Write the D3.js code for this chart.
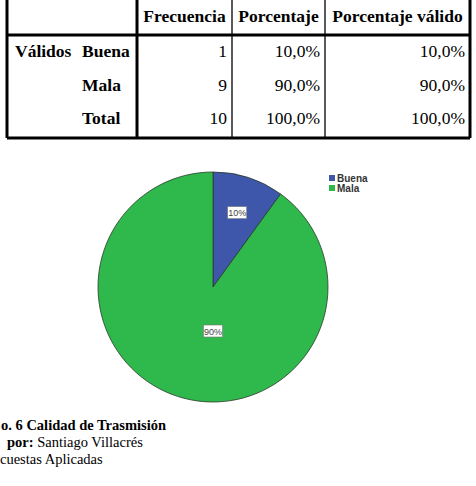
<!DOCTYPE html>
<html>
<head>
<meta charset="utf-8">
<script src="https://cdn.jsdelivr.net/npm/d3@7"></script>
<style>
  body { margin: 0; background: #fff; }
  svg { display: block; }
</style>
</head>
<body>
<svg id="chart" width="476" height="486"></svg>
<script>
// table + pie data
var categories = ["Buena", "Mala"];
var frecuencia = [1, 9];
var porcentaje = ["10,0%", "90,0%"];
var porcentajeValido = ["10,0%", "90,0%"];
var totalRow = ["Total", 10, "100,0%", "100,0%"];
var headers = ["Frecuencia", "Porcentaje", "Porcentaje válido"];
var sliceLabels = ["10%", "90%"];
var colors = ["#3f57ab", "#2fb84c"];
var caption = ["o. 6 Calidad de Trasmisión", "por:", " Santiago Villacrés", "cuestas Aplicadas"];

var svg = d3.select("#chart");

// ---- table ----
var colX = [7, 137, 232, 325, 470];
var rowY = [-3, 35, 138];
var rowCenters = [51, 85, 118];
var serif = "'Liberation Serif', 'Times New Roman', serif";
var fs = "17.5px";

var tbl = svg.append("g");

// grid lines
tbl.append("line").attr("x1", colX[0]).attr("x2", colX[4]).attr("y1", rowY[1]).attr("y2", rowY[1])
  .attr("stroke", "#000").attr("stroke-width", 3);
tbl.append("line").attr("x1", colX[0]).attr("x2", colX[4]).attr("y1", rowY[2]).attr("y2", rowY[2])
  .attr("stroke", "#000").attr("stroke-width", 3);
colX.forEach(function(x, i) {
  var thick = (i == 0 || i == 1 || i == 4);
  tbl.append("line").attr("x1", x).attr("x2", x).attr("y1", rowY[0]).attr("y2", rowY[2])
    .attr("stroke", "#000").attr("stroke-width", thick ? 3 : 1.3);
});

// header
headers.forEach(function(h, i) {
  tbl.append("text")
    .attr("x", (colX[i + 1] + colX[i + 2]) / 2)
    .attr("y", 22)
    .attr("text-anchor", "middle")
    .style("font-family", serif).style("font-size", fs).style("font-weight", "bold")
    .text(h);
});

// body rows
var rows = categories.map(function(c, i) {
  return [c, frecuencia[i], porcentaje[i], porcentajeValido[i]];
});
rows.push(totalRow);

tbl.append("text").attr("x", 15).attr("y", rowCenters[0] + 6)
  .style("font-family", serif).style("font-size", fs).style("font-weight", "bold")
  .text("Válidos");

rows.forEach(function(r, i) {
  var y = rowCenters[i] + 6;
  tbl.append("text").attr("x", 82).attr("y", y)
    .style("font-family", serif).style("font-size", fs).style("font-weight", "bold")
    .text(r[0]);
  for (var j = 1; j < 4; j++) {
    tbl.append("text").attr("x", colX[j + 1] - 5).attr("y", y)
      .attr("text-anchor", "end")
      .style("font-family", serif).style("font-size", fs)
      .text(r[j]);
  }
});

// ---- pie ----
var cx = 213, cy = 287, radius = 115;
var pie = d3.pie().sort(null).value(function(d) { return d; });
var arc = d3.arc().innerRadius(0).outerRadius(radius);
var arcs = pie(frecuencia);

var g = svg.append("g").attr("transform", "translate(" + cx + "," + cy + ")");
g.selectAll("path").data(arcs).enter().append("path")
  .attr("d", arc)
  .attr("fill", function(d, i) { return colors[i]; })
  .attr("stroke", "#2a3a2a").attr("stroke-width", 0.8);

// slice labels in white boxes
var labelArc = d3.arc().innerRadius(radius * 0.68).outerRadius(radius * 0.68);
arcs.forEach(function(d, i) {
  var p = i == 0 ? labelArc.centroid(d) : [0, 44];
  var lg = g.append("g").attr("transform", "translate(" + p[0] + "," + p[1] + ")");
  lg.append("rect").attr("x", -9.5).attr("y", -6).attr("width", 19).attr("height", 12)
    .attr("fill", "#fff").attr("stroke", "#777").attr("stroke-width", 0.6);
  lg.append("text").attr("y", 3.5).attr("text-anchor", "middle")
    .style("font-family", "'Liberation Sans', Arial, sans-serif").style("font-size", "9px")
    .attr("fill", "#444")
    .text(sliceLabels[i]);
});

// legend
var leg = svg.append("g").attr("transform", "translate(329,175)");
categories.forEach(function(c, i) {
  leg.append("rect").attr("x", 0).attr("y", i * 10).attr("width", 6).attr("height", 6)
    .attr("fill", colors[i]);
  leg.append("text").attr("x", 8).attr("y", i * 10 + 7)
    .style("font-family", "'Liberation Sans', Arial, sans-serif").style("font-size", "10px")
    .style("font-weight", "bold").attr("fill", "#333")
    .text(c);
});

// caption
var cap = svg.append("g").style("font-family", serif).style("font-size", "14.5px");
cap.append("text").attr("x", 1).attr("y", 430).style("font-weight", "bold").text(caption[0]);
var t2 = cap.append("text").attr("x", 7).attr("y", 447);
t2.append("tspan").style("font-weight", "bold").text(caption[1]);
t2.append("tspan").text(caption[2]);
cap.append("text").attr("x", 0).attr("y", 464).text(caption[3]);
</script>
</body>
</html>
